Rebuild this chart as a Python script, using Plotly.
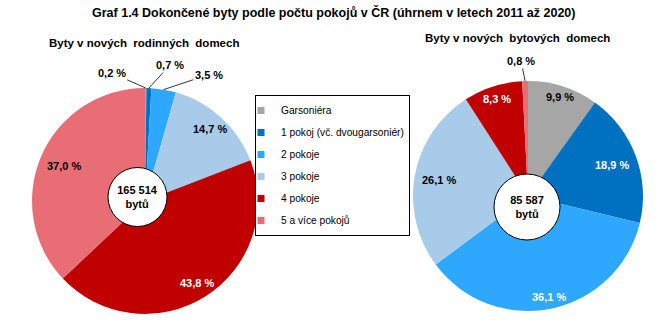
import math
import plotly.graph_objects as go

categories = ["Garsoniéra", "1 pokoj (vč. dvougarsoniér)", "2 pokoje", "3 pokoje", "4 pokoje", "5 a více pokojů"]
colors = ["#a6a6a6", "#0070c0", "#2ea7ff", "#a7cbe8", "#c00000", "#e96d75"]

family_values = [0.2, 0.7, 3.5, 14.7, 43.8, 37.0]
family_total = "165 514"
apartment_values = [9.9, 18.9, 36.1, 26.1, 8.3, 0.8]
apartment_total = "85 587"

title_text = "Graf 1.4 Dokončené byty podle počtu pokojů v ČR (úhrnem v letech 2011 až 2020)"
left_title = "Byty v nových\u00a0 rodinných\u00a0 domech"
right_title = "Byty v nových\u00a0 bytových\u00a0 domech"

FONT = "Liberation Sans, Arial, sans-serif"
W, H = 666, 330

# ---- geometry / styling (pixels) ----
LEFT = dict(cx=145, cy=201, r=113, hole_c=(137.5, 197), hole_r=29.5)
RIGHT = dict(cx=528, cy=196, r=115, hole_c=(527, 207), hole_r=33)

# label style per slice: ("in", radius fraction, color) or ("out", dx, dy) offsets of text from the slice edge
LEFT_LABELS = [("out", -34, -15), ("out", 21, -23), ("out", 45, -15),
               ("in", 0.86, "black"), ("in", 0.86, "white"), ("in", 0.78, "black")]
RIGHT_LABELS = [("in", 0.90, "black"), ("in", 0.78, "white"), ("in", 0.90, "white"),
                ("in", 0.79, "black"), ("in", 0.89, "white"), ("out", -4, -20)]


def fmt(v):
    return f"{v:.1f} %".replace(".", ",")


def px_domain(cx, cy, r):
    return dict(x=[(cx - r) / W, (cx + r) / W], y=[1 - (cy + r) / H, 1 - (cy - r) / H])


def slice_annotations(values, geo, styles):
    anns = []
    total = sum(values)
    cum = 0.0
    for v, st in zip(values, styles):
        mid = (cum + v / 2) / total * 2 * math.pi
        cum += v
        sx, sy = math.sin(mid), -math.cos(mid)
        if st[0] == "in":
            f = st[1]
            px = geo["cx"] + f * geo["r"] * sx
            py = geo["cy"] + f * geo["r"] * sy
            anns.append(dict(text=f"<b>{fmt(v)}</b>", x=px / W, y=1 - py / H, xref="paper", yref="paper",
                             showarrow=False, font=dict(family=FONT, size=11, color=st[2]),
                             xanchor="center", yanchor="middle"))
        else:
            ex = geo["cx"] + geo["r"] * sx
            ey = geo["cy"] + geo["r"] * sy
            anns.append(dict(text=f"<b>{fmt(v)}</b>", x=ex / W, y=1 - ey / H, xref="paper", yref="paper",
                             showarrow=True, arrowhead=0, arrowwidth=0.8, arrowcolor="black",
                             ax=st[1], ay=st[2], standoff=0, startstandoff=0,
                             font=dict(family=FONT, size=11, color="black")))
    return anns


fig = go.Figure()


def add_pie(values, geo, total_text):
    fig.add_trace(go.Pie(
        values=values, labels=categories, textinfo="none", sort=False,
        direction="clockwise", rotation=0,
        marker=dict(colors=colors, line=dict(width=0)),
        domain=px_domain(geo["cx"], geo["cy"], geo["r"]),
        showlegend=False, hoverinfo="skip",
    ))
    hx, hy = geo["hole_c"]
    fig.add_trace(go.Pie(
        values=[1], labels=["total"], text=[f"{total_text}<br>bytů"], textinfo="text",
        sort=False, marker=dict(colors=["white"], line=dict(color="black", width=1)),
        textposition="inside", insidetextorientation="horizontal",
        textfont=dict(family=FONT, size=11, color="black", weight="bold"),
        domain=px_domain(hx, hy, geo["hole_r"]),
        showlegend=False, hoverinfo="skip",
    ))


add_pie(family_values, LEFT, family_total)
add_pie(apartment_values, RIGHT, apartment_total)

# legend entries
for i, (cat, col) in enumerate(zip(categories, colors)):
    fig.add_trace(go.Scatter(
        x=[None], y=[None], mode="markers", name=cat, legendgroup=f"g{i}",
        marker=dict(symbol="square", size=7, color=col), showlegend=True,
    ))

annotations = [
    dict(text=f"<b>{title_text}</b>", x=0.5, y=1 - 12 / H, xref="paper", yref="paper",
         showarrow=False, font=dict(family=FONT, size=12.5, color="black"), xanchor="center", yanchor="middle"),
    dict(text=f"<b>{left_title}</b>", x=143.5 / W, y=1 - 43 / H, xref="paper", yref="paper",
         showarrow=False, font=dict(family=FONT, size=11.5, color="black"), xanchor="center", yanchor="middle"),
    dict(text=f"<b>{right_title}</b>", x=517.5 / W, y=1 - 38 / H, xref="paper", yref="paper",
         showarrow=False, font=dict(family=FONT, size=11.5, color="black"), xanchor="center", yanchor="middle"),
]
annotations += slice_annotations(family_values, LEFT, LEFT_LABELS)
annotations += slice_annotations(apartment_values, RIGHT, RIGHT_LABELS)

fig.update_layout(
    width=W, height=H,
    margin=dict(l=0, r=0, t=0, b=0),
    paper_bgcolor="white", plot_bgcolor="white",
    xaxis=dict(visible=False), yaxis=dict(visible=False),
    font=dict(family=FONT, size=11, color="black"),
    legend=dict(
        x=255 / W, y=1 - 95 / H, xanchor="left", yanchor="top",
        bordercolor="black", borderwidth=1, bgcolor="white",
        font=dict(family=FONT, size=10.2, color="black"),
        tracegroupgap=3, indentation=-15,
    ),
    annotations=annotations,
)

fig.write_html("out.html")
